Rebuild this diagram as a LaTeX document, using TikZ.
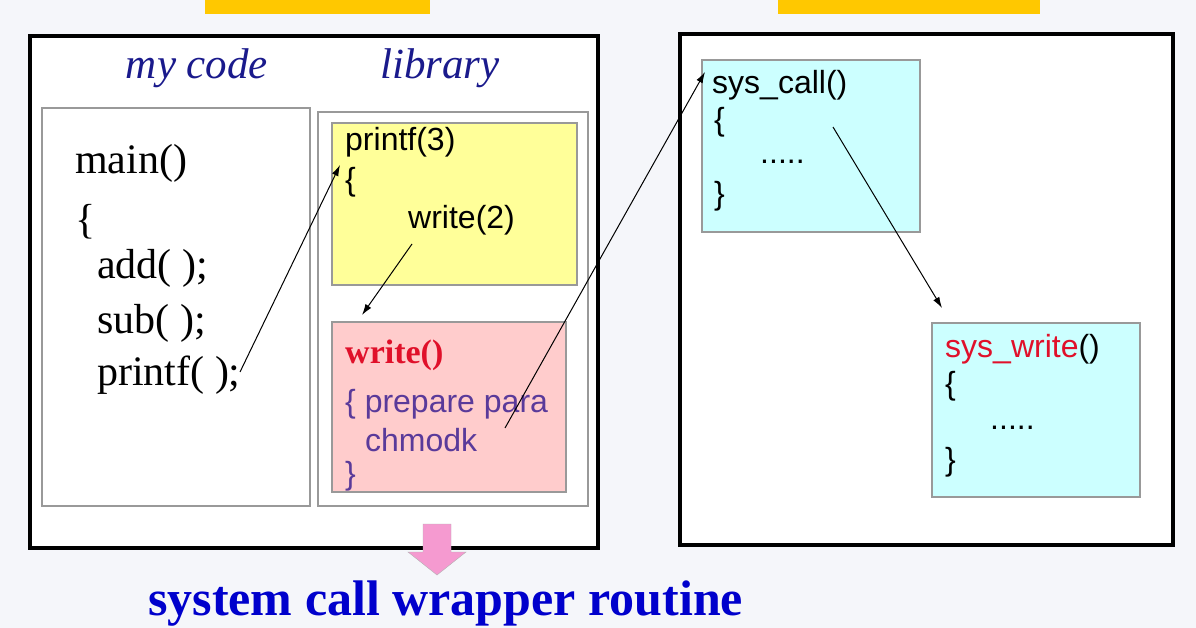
\documentclass[tikz,border=0pt]{standalone}
\usepackage{fontspec}
\setmainfont{Liberation Serif}
\setsansfont{Liberation Sans}
\begin{document}
\begin{tikzpicture}[x=1pt,y=-1pt,
  big/.style={draw=black,line width=4.5pt},
  inner/.style={draw=gray!80,line width=1.2pt},
  code/.style={inner sep=0pt,anchor=west,font=\fontsize{42}{46}\selectfont},
  sans/.style={inner sep=0pt,anchor=west,font=\sffamily\fontsize{32}{36}\selectfont},
  arr/.style={-{Latex[length=11pt,width=7pt]},line width=1pt}]
\usetikzlibrary{arrows.meta}
\definecolor{bg}{HTML}{F5F6FA}
\definecolor{ylab}{HTML}{FFC800}
\definecolor{ybox}{HTML}{FFFF99}
\definecolor{pbox}{HTML}{FFCCCC}
\definecolor{cbox}{HTML}{CCFFFF}
\definecolor{navy}{HTML}{1A1A8C}
\definecolor{purp}{HTML}{5A3A9A}
\definecolor{rd}{HTML}{E0102A}
\definecolor{blu}{HTML}{0000CC}
\definecolor{pk}{HTML}{F59AD0}
\useasboundingbox (0,0) rectangle (1196,628);
\fill[bg] (0,0) rectangle (1196,628);
\fill[ylab] (205,-5) rectangle (430,14);
\fill[ylab] (778,-5) rectangle (1040,14);
\draw[big,fill=white] (30,36) rectangle (598,548);
\draw[big,fill=white] (680,34) rectangle (1173,545);
\node[inner sep=0pt,font=\itshape\fontsize{43}{46}\selectfont,text=navy] (mc) at (197,68) {my code};
\node[inner sep=0pt,font=\itshape\fontsize{43}{46}\selectfont,text=navy] (lib) at (440,68) {library};
\draw[inner] (42,108) rectangle (310,506);
\draw[inner] (318,112) rectangle (588,506);
\draw[inner,fill=ybox] (332,123) rectangle (577,285);
\draw[inner,fill=pbox] (332,322) rectangle (566,492);
\draw[inner,fill=cbox] (702,60) rectangle (920,232);
\draw[inner,fill=cbox] (932,323) rectangle (1140,497);
\node[code] (m1) at (75,163) {main()};
\node[code] (m2) at (75,222) {\{};
\node[code] (m3) at (97,268) {add( );};
\node[code] (m4) at (97,323) {sub( );};
\node[code] (m5) at (97,375) {printf( );};
\node[sans] (p1) at (345,142) {printf(3)};
\node[sans] (p2) at (345,182) {\{};
\node[sans] (p3) at (408,220) {write(2)};
\node[inner sep=0pt,anchor=west,font=\bfseries\fontsize{34}{38}\selectfont,text=rd] (w1) at (345,355) {write()};
\node[sans,text=purp] (w2) at (345,404) {\{ prepare para};
\node[sans,text=purp] (w3) at (365,440) {chmodk};
\node[sans,text=purp] (w4) at (345,476) {\}};
\node[sans] (s1) at (712,85) {sys\_call()};
\node[sans] (s2) at (714,122) {\{};
\node[sans] (s3) at (760,162) {.....};
\node[sans] (s4) at (714,196) {\}};
\node[sans] (t1) at (945,349) {\textcolor{rd}{sys\_write}()};
\node[sans] (t2) at (945,386) {\{};
\node[sans] (t3) at (990,428) {.....};
\node[sans] (t4) at (945,462) {\}};
\coordinate (a1) at (240,372); \coordinate (b1) at (340,165);
\coordinate (a2) at (412,244); \coordinate (b2) at (362,315);
\coordinate (a3) at (505,428); \coordinate (b3) at (705,72);
\coordinate (a4) at (833,127); \coordinate (b4) at (942,308);
\draw[arr] (a1) -- (b1);
\draw[arr] (a2) -- (b2);
\draw[arr] (a3) -- (b3);
\draw[arr] (a4) -- (b4);
\fill[pk,draw=gray!60] (423,524) -- (451,524) -- (451,552) -- (466,552) -- (437,575) -- (408,552) -- (423,552) -- cycle;
\node[inner sep=0pt,anchor=west,font=\bfseries\fontsize{50}{54}\selectfont,text=blu] (title) at (148,604) {system call wrapper routine};
\end{tikzpicture}
\end{document}
